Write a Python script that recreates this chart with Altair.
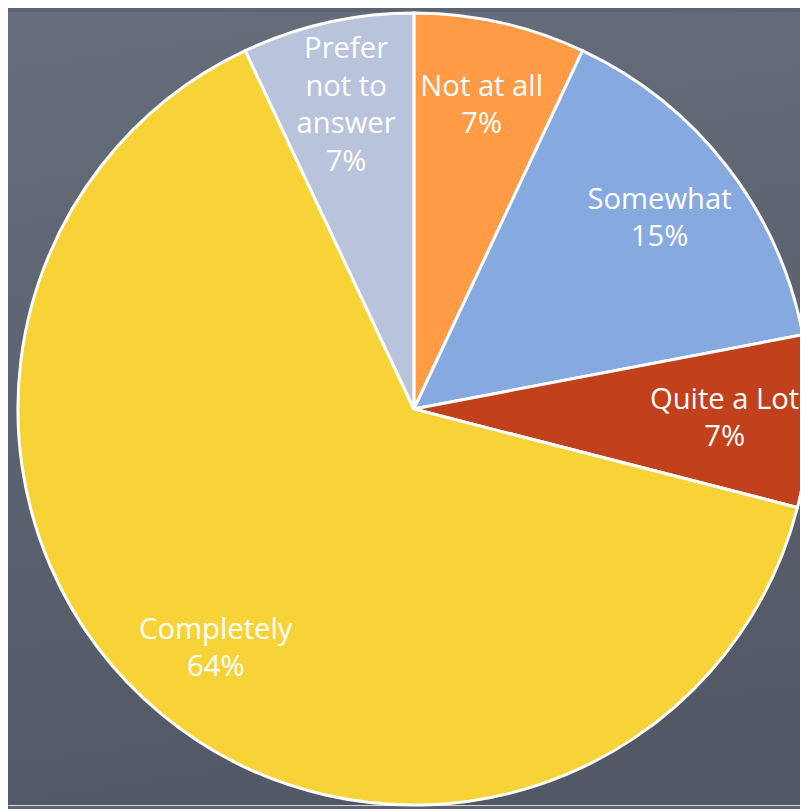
import altair as alt
import pandas as pd

categories = ["Not at all", "Somewhat", "Quite a Lot", "Completely", "Prefer not to answer"]
labels = ["Not at all\n7%", "Somewhat\n15%", "Quite a Lot\n7%", "Completely\n64%", "Prefer\nnot to\nanswer\n7%"]
values = [7, 15, 7, 64, 7]
colors = ["#FF9A45", "#86A9E0", "#C0411B", "#F8D338", "#B9C4DC"]

df = pd.DataFrame({"category": categories, "label": labels, "value": values,
                   "order": list(range(len(categories)))})
df["nlines"] = df["label"].str.count("\n") + 1

W, H = 800, 801
CX, CY = 410, 401
LH = 38

bg = alt.Chart(pd.DataFrame({"a": [0]})).mark_rect(
    color=alt.Gradient(
        gradient="linear",
        stops=[alt.GradientStop(color="#676e7b", offset=0),
               alt.GradientStop(color="#525865", offset=1)],
        x1=0, x2=0.15, y1=0, y2=1,
    )
).encode(x=alt.value(0), x2=alt.value(W), y=alt.value(0), y2=alt.value(H))

base = alt.Chart(df).encode(
    theta=alt.Theta("value:Q", stack=True),
    order=alt.Order("order:Q"),
)

arcs = base.mark_arc(radius=400, stroke="white", strokeWidth=3).encode(
    color=alt.Color("category:N", scale=alt.Scale(domain=categories, range=colors), legend=None),
    x=alt.value(CX), y=alt.value(CY),
)

def text_layer(n):
    return base.transform_calculate(
        t=f"datum.nlines == {n} ? datum.label : ''"
    ).mark_text(radius=314, lineBreak="\n", fontSize=29.5, font="Open Sans",
                color="white", lineHeight=LH, baseline="middle",
                dy=-(n - 1) * LH / 2).encode(
        text="t:N",
        x=alt.value(CX), y=alt.value(CY),
    )

chart = alt.layer(bg, arcs, text_layer(2), text_layer(4)).properties(
    width=W, height=H, padding=0, autosize=alt.AutoSizeParams(type="none")
).configure_view(stroke=None).configure(background="#5d6370")

chart.save("out.html", embed_options={"renderer": "svg", "actions": False})
